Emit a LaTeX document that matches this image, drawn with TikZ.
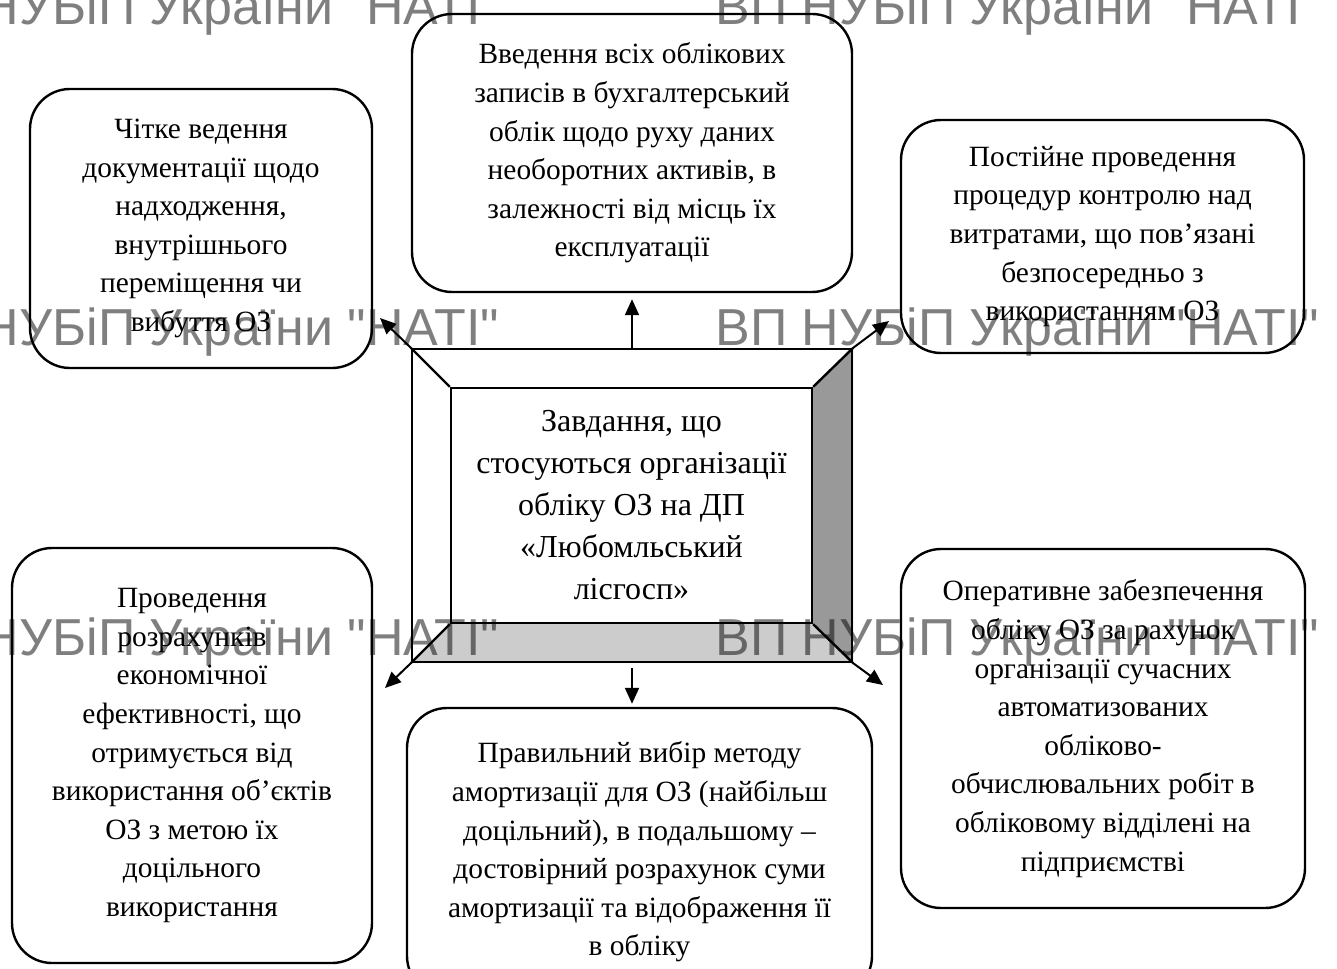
\documentclass[tikz,border=0pt]{standalone}
\usepackage{fontspec}
\setmainfont{Liberation Serif}
\newfontfamily\wmfont{Liberation Sans}
\usepackage{xcolor}
\definecolor{beveldark}{RGB}{153, 153, 153}
\definecolor{bevellight}{RGB}{204, 204, 204}
\usetikzlibrary{arrows.meta, backgrounds}

\begin{document}
\begin{tikzpicture}[
        x=0.5pt, y=-0.5pt,
        taskbox/.style={
            rectangle,
            draw=black,
            line width=1.2pt,
            rounded corners=20pt,
            align=center,
            inner sep=0pt,
            font=\fontsize{14.7}{19.3}\selectfont
        },
        arrow/.style={
            -{Triangle[length=8pt, width=7pt]},
            line width=1pt
        },
        wmark/.style={
            anchor=base west,
            inner sep=0pt,
            opacity=0.5,
            font=\wmfont\fontsize{26}{26}\selectfont
        }
    ]
        \useasboundingbox (0,0) rectangle (1337,968);
        \clip (0,0) rectangle (1337,968);

        % Centre (bevel)
        \node[draw, line width=1.2pt, minimum width=220pt, minimum height=156.5pt, inner sep=0pt] (bevel) at (632,505.5) {};
        \node[draw, line width=1.2pt, minimum width=180.5pt, minimum height=117.5pt, inner sep=0pt, align=center,
              font=\fontsize{16}{21}\selectfont] (tasks) at (631.5,505.5)
            {Завдання, що\\ стосуються організації\\ обліку ОЗ на ДП\\ «Любомльський\\ лісгосп»};
        \foreach \corner in {north west, north east, south west, south east}
            \draw[line width=1.2pt] (bevel.\corner) -- (tasks.\corner);

        % Nodes
        \node[taskbox, minimum width=171pt, minimum height=139.5pt] (docs) at (201,228.5)
            {Чітке ведення\\ документації щодо\\ надходження,\\ внутрішнього\\ переміщення чи\\ вибуття ОЗ};
        \node[taskbox, minimum width=220pt, minimum height=139pt] (records) at (632,153)
            {Введення всіх облікових\\ записів в бухгалтерський\\ облік щодо руху даних\\ необоротних активів, в\\ залежності від місць їх\\ експлуатації};
        \node[taskbox, minimum width=201.5pt, minimum height=116.5pt] (costs) at (1102.5,236.5)
            {Постійне проведення\\ процедур контролю над\\ витратами, що пов’язані\\ безпосередньо з\\ використанням ОЗ};
        \node[taskbox, minimum width=180pt, minimum height=207.5pt] (effect) at (192,755.5)
            {Проведення\\ розрахунків\\ економічної\\ ефективності, що\\ отримується від\\ використання об’єктів\\ ОЗ з метою їх\\ доцільного\\ використання};
        \node[taskbox, minimum width=232.5pt, minimum height=144pt] (deprec) at (639.5,852)
            {Правильний вибір методу\\ амортизації для ОЗ (найбільш\\ доцільний), в подальшому –\\ достовірний розрахунок суми\\ амортизації та відображення її\\ в обліку};
        \node[taskbox, minimum width=202pt, minimum height=179.5pt] (autom) at (1103,728.5)
            {Оперативне забезпечення\\ обліку ОЗ за рахунок\\ організації сучасних\\ автоматизованих\\ обліково-\\ обчислювальних робіт в\\ обліковому відділені на\\ підприємстві};

        % Arrows
        \coordinate (tipnw) at (380,318);
        \coordinate (tipne) at (889,321);
        \coordinate (tipsw) at (385,688);
        \coordinate (tipse) at (883,685);
        \draw[arrow] (bevel.north west) -- (tipnw);
        \draw[arrow] (bevel.north east) -- (tipne);
        \draw[arrow] (bevel.south west) -- (tipsw);
        \draw[arrow] (bevel.south east) -- (tipse);
        \draw[arrow, shorten >=3pt] (bevel.north) -- (records.south);
        \draw[arrow, shorten <=2.5pt, shorten >=1.5pt] (bevel.south) -- (bevel.south |- deprec.north);

        % Background
        \begin{scope}[on background layer]
            \fill[beveldark] (bevel.north east) -- (bevel.south east) -- (tasks.south east) -- (tasks.north east) -- cycle;
            \fill[bevellight] (bevel.south west) -- (bevel.south east) -- (tasks.south east) -- (tasks.south west) -- cycle;
        \end{scope}

        % Watermark
        \foreach \wy in {25,345,655}
            \foreach \wx in {-105,715}
                \node[wmark] (wm\wx\wy) at (\wx,\wy) {ВП НУБіП України "НАТІ"};
    \end{tikzpicture}
\end{document}
